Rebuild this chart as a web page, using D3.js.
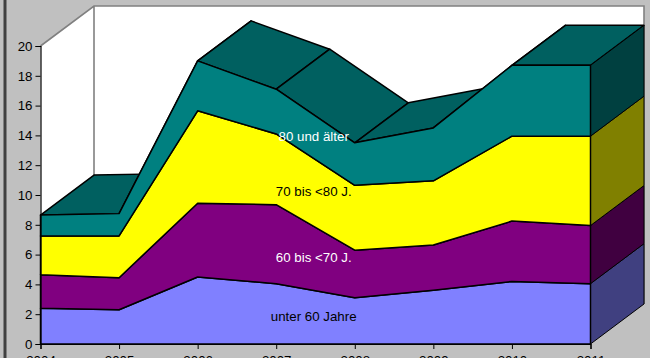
<!DOCTYPE html>
<html><head><meta charset="utf-8">
<script src="https://cdn.jsdelivr.net/npm/d3@7"></script>
<style>html,body{margin:0;padding:0;background:#c0c0c0;overflow:hidden}svg{display:block}text{font-family:"Liberation Sans",Arial,sans-serif}</style>
</head><body><svg id="c" width="650" height="358"></svg>
<script>
const years=["2004","2005","2006","2007","2008","2009","2010","2011"];
const unter60=[2.4,2.3,4.5,4.05,3.1,3.6,4.2,4.05];
const j60bis70=[2.25,2.15,4.95,5.3,3.2,3.05,4.05,3.9];
const j70bis80=[2.6,2.8,6.2,4.75,4.35,4.3,5.7,6.0];
const ab80=[1.4,1.5,3.35,3.0,2.85,3.55,4.75,4.75];
const yTicks=[0,2,4,6,8,10,12,14,16,18,20];
const seriesNames=["unter 60 Jahre","60 bis <70 J.","70 bis <80 J.","80 und älter"];
const seriesValues=[unter60,j60bis70,j70bis80,ab80];
const frontColors=["#8080ff","#800080","#ffff00","#008080"];
const sideColors=["#404080","#400040","#808000","#004040"];
const labelColors=["#000000","#ffffff","#000000","#ffffff"];

const svg=d3.select("#c");
const x=d3.scalePoint().domain(years).range([40.5,590.5]);
const y=d3.scaleLinear().domain([0,20]).range([344,46]);
const dx=53.5,dy=-40;
const pts=a=>a.map(p=>p.join(",")).join(" ");

const rows=years.map((yr,i)=>{const o={year:yr};seriesNames.forEach((n,k)=>o[n]=seriesValues[k][i]);return o;});
const stacked=d3.stack().keys(seriesNames)(rows);

// walls
const wall="#808080";
const [xL,xR]=x.range();
svg.append("polygon").attr("points",pts([[xL,y(20)],[xL+dx,y(20)+dy],[xR+dx,y(20)+dy],[xR+dx,y(0)+dy],[xL,y(0)]])).attr("fill","#fff");
svg.append("path").attr("d",`M${xL},${y(20)}L${xL+dx},${y(20)+dy}L${xR+dx},${y(20)+dy}L${xR+dx},${y(0)+dy}M${xL+dx},${y(20)+dy}V${y(0)+dy}`)
  .attr("fill","none").attr("stroke",wall).attr("stroke-width",1.6);

const topBand=stacked[stacked.length-1];
// top surface, left to right
d3.range(years.length-1).forEach(i=>{
  const a=[x(years[i]),y(topBand[i][1])],b=[x(years[i+1]),y(topBand[i+1][1])];
  svg.append("polygon").attr("points",pts([a,b,[b[0]+dx,b[1]+dy],[a[0]+dx,a[1]+dy]]))
    .attr("fill","#006060").attr("stroke","#000").attr("stroke-width",1.5).attr("stroke-linejoin","round");
});
// right side faces
const last=years[years.length-1];
stacked.forEach((s,k)=>{
  const d=s[s.length-1],xx=x(last);
  svg.append("polygon").attr("points",pts([[xx,y(d[0])],[xx,y(d[1])],[xx+dx,y(d[1])+dy],[xx+dx,y(d[0])+dy]]))
    .attr("fill",sideColors[k]).attr("stroke","#000").attr("stroke-width",1);
});
// front bands
const area=d3.area().x(d=>x(d.data.year)).y0(d=>y(d[0])).y1(d=>y(d[1]));
stacked.forEach((s,k)=>{
  svg.append("path").attr("d",area(s)).attr("fill",frontColors[k]).attr("stroke","#000").attr("stroke-width",1.5).attr("stroke-linejoin","round");
});
// axes
const yAxis=d3.axisLeft(y).tickValues(yTicks).tickSize(5).tickPadding(3);
const gy=svg.append("g").attr("transform",`translate(${xL},0)`).call(yAxis);
const xAxis=d3.axisBottom(x).tickSize(5).tickPadding(7);
const gx=svg.append("g").attr("transform",`translate(0,${y(0)})`).call(xAxis);
[gy,gx].forEach(g=>{g.selectAll("path").attr("stroke","#000").attr("stroke-width",1.2);
 g.selectAll("line").attr("stroke","#000").attr("stroke-width",1);
 g.selectAll("text").attr("fill","#000").style("font-size","13.3px").style("font-family",'"Liberation Sans",Arial,sans-serif');});
// labels
svg.append("g").selectAll("text").data(seriesNames).join("text")
 .attr("x",x("2007")+37.5)
 .attr("y",(d,k)=>[316,257,191,136][k]+4.5)
 .attr("text-anchor","middle").attr("fill",(d,k)=>labelColors[k]).style("font-size","13.3px").text(d=>d);
// frame
svg.append("rect").attr("x",3.5).attr("y",-4).attr("width",3).attr("height",370).attr("fill","#404040");
</script></body></html>
